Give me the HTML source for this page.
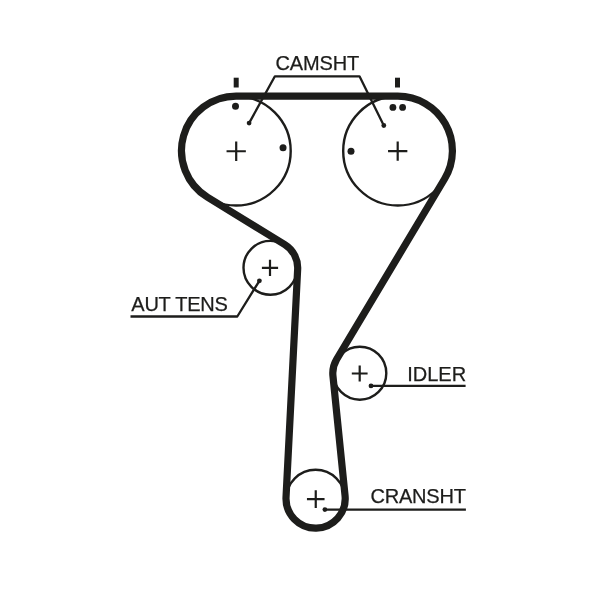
<!DOCTYPE html>
<html><head><meta charset="utf-8"><title>Timing belt diagram</title>
<style>
html,body{margin:0;padding:0;background:#fff;}
body{width:600px;height:589px;overflow:hidden;}
svg{display:block;will-change:transform;font-family:"Liberation Sans",sans-serif;}
</style></head>
<body>
<svg width="600" height="589" viewBox="0 0 600 589">
<rect width="600" height="589" fill="#ffffff"/>
<circle cx="236.1" cy="150.9" r="54.6" fill="none" stroke="#1d1d1b" stroke-width="2.4"/>
<circle cx="397.8" cy="150.9" r="54.6" fill="none" stroke="#1d1d1b" stroke-width="2.4"/>
<circle cx="270.4" cy="267.8" r="26.9" fill="none" stroke="#1d1d1b" stroke-width="2.4"/>
<circle cx="359.8" cy="373.2" r="26.5" fill="none" stroke="#1d1d1b" stroke-width="2.4"/>
<circle cx="315.6" cy="499.1" r="29.4" fill="none" stroke="#1d1d1b" stroke-width="2.4"/>
<path d="M236.10 96.10 L397.80 96.10 A54.60 54.60 0 0 1 444.66 178.73 L336.63 359.34 A27.00 27.00 0 0 0 332.94 375.92 L345.05 495.52 A29.60 29.60 0 1 1 286.04 496.99 L297.66 269.19 A27.30 27.30 0 0 0 284.67 244.53 L207.56 197.25 A54.60 54.60 0 0 1 236.10 96.10 Z" fill="none" stroke="#1d1d1b" stroke-width="7.2" stroke-linejoin="round"/>
<path d="M226.55 151.25H245.85M236.20 141.60V160.90" stroke="#1d1d1b" stroke-width="2.2" fill="none"/>
<path d="M388.05 151.20H407.35M397.70 141.55V160.85" stroke="#1d1d1b" stroke-width="2.2" fill="none"/>
<path d="M261.90 267.80H278.10M270.00 259.70V275.90" stroke="#1d1d1b" stroke-width="2.2" fill="none"/>
<path d="M351.80 373.50H367.60M359.70 365.60V381.40" stroke="#1d1d1b" stroke-width="2.2" fill="none"/>
<path d="M306.95 499.10H324.55M315.75 490.30V507.90" stroke="#1d1d1b" stroke-width="2.2" fill="none"/>
<rect x="233.7" y="77.7" width="5" height="9.8" fill="#1d1d1b"/>
<rect x="395" y="77.7" width="5" height="9.8" fill="#1d1d1b"/>
<circle cx="235.5" cy="106.2" r="3.5" fill="#1d1d1b"/>
<circle cx="283.05" cy="147.7" r="3.5" fill="#1d1d1b"/>
<circle cx="392.9" cy="107.4" r="3.4" fill="#1d1d1b"/>
<circle cx="402.6" cy="107.4" r="3.4" fill="#1d1d1b"/>
<circle cx="351.0" cy="151.25" r="3.5" fill="#1d1d1b"/>
<circle cx="249.1" cy="123.1" r="2.4" fill="#1d1d1b"/>
<circle cx="383.8" cy="125.5" r="2.4" fill="#1d1d1b"/>
<circle cx="259.4" cy="280.8" r="2.4" fill="#1d1d1b"/>
<circle cx="371.0" cy="385.9" r="2.4" fill="#1d1d1b"/>
<circle cx="324.9" cy="509.6" r="2.4" fill="#1d1d1b"/>
<path d="M249.1 123.1L274.9 76.3H359.5L383.8 125.5" fill="none" stroke="#1d1d1b" stroke-width="2.3" stroke-linejoin="round"/>
<path d="M259.4 280.8L237.3 316.5H130.5" fill="none" stroke="#1d1d1b" stroke-width="2.3" stroke-linejoin="round"/>
<path d="M371.0 385.9H465.6" fill="none" stroke="#1d1d1b" stroke-width="2.3" stroke-linejoin="round"/>
<path d="M324.9 509.6H465.9" fill="none" stroke="#1d1d1b" stroke-width="2.3" stroke-linejoin="round"/>
<text x="275.4" y="70.4" font-size="20" letter-spacing="-0.12" fill="#1d1d1b" stroke="#1d1d1b" stroke-width="0.25">CAMSHT</text>
<text x="131.3" y="310.7" font-size="20" letter-spacing="-0.23" fill="#1d1d1b" stroke="#1d1d1b" stroke-width="0.25">AUT TENS</text>
<text x="407.2" y="381.1" font-size="20" letter-spacing="0" fill="#1d1d1b" stroke="#1d1d1b" stroke-width="0.25">IDLER</text>
<text x="370.4" y="503.2" font-size="20" letter-spacing="-0.2" fill="#1d1d1b" stroke="#1d1d1b" stroke-width="0.25">CRANSHT</text>
</svg>
</body></html>
